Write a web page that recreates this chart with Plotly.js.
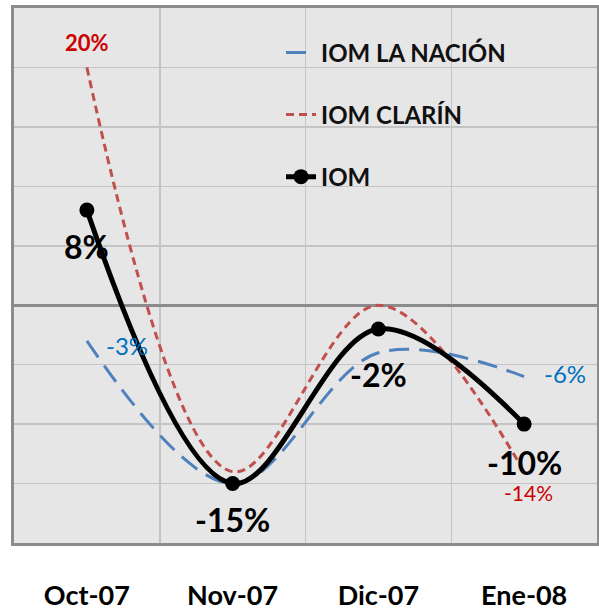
<!DOCTYPE html>
<html>
<head>
<meta charset="utf-8">
<script src="https://cdn.plot.ly/plotly-3.0.1.min.js"></script>
<style>html,body{margin:0;padding:0;background:#fff;}#chart{width:599px;height:615px;}</style>
</head>
<body>
<div id="chart"></div>
<script>
const categories = ['Oct-07', 'Nov-07', 'Dic-07', 'Ene-08'];
const iomLaNacion = [-3, -15, -4, -6];
const iomClarin = [20, -14, 0, -14];
const iom = [8, -15, -2, -10];
const seriesNames = ['IOM LA NACIÓN', 'IOM CLARÍN', 'IOM'];

const FONT = 'Lato, "Open Sans", sans-serif';
const pct = v => v + '%';

const traces = [
  {x: categories, y: iomLaNacion, name: seriesNames[0], type: 'scatter', mode: 'lines',
   line: {color: '#4f81bd', width: 3, dash: '20px,10px', shape: 'spline', smoothing: 1}, legend: 'legend'},
  {x: categories, y: iomClarin, name: seriesNames[1], type: 'scatter', mode: 'lines',
   line: {color: '#c0504d', width: 3, dash: '8px,5px', shape: 'spline', smoothing: 1}, legend: 'legend2'},
  {x: categories, y: iom, name: seriesNames[2], type: 'scatter', mode: 'lines+markers',
   line: {color: '#000000', width: 5, shape: 'spline', smoothing: 1},
   marker: {color: '#000000', size: 15}, legend: 'legend3'}
];

const annotations = [];
function lab(i, series, color, size, xs, ys, bold) {
  annotations.push({x: categories[i], y: series[i], xref: 'x', yref: 'y',
    text: bold ? '<b>' + pct(series[i]) + '</b>' : pct(series[i]),
    showarrow: false, xshift: xs, yshift: ys, borderpad: 0,
    font: {family: FONT, size: size, color: color}});
}
// IOM labels
lab(0, iom, '#000', 32, 0, -36, true);
lab(1, iom, '#000', 32, 0, -36, true);
lab(2, iom, '#000', 32, 0, -45, true);
lab(3, iom, '#000', 32, 0, -38, true);
// Clarín labels
lab(0, iomClarin, '#cc0000', 22, 0, 25, true);
lab(3, iomClarin, '#cc0000', 21, 4, -21, false);
// La Nación labels
lab(0, iomLaNacion, '#0070c0', 24, 40, -5, false);
lab(3, iomLaNacion, '#0070c0', 24, 41, 3, false);

const legendCommon = {xanchor: 'left', yanchor: 'middle', bgcolor: 'rgba(0,0,0,0)',
  font: {family: FONT, size: 24, color: '#111', weight: 'bold'}};

const layout = {
  width: 599, height: 615,
  margin: {l: 14, r: 2, t: 8, b: 72},
  paper_bgcolor: '#ffffff',
  plot_bgcolor: '#e6e6e6',
  showlegend: true,
  legend: Object.assign({x: 0.458, y: 0.916}, legendCommon),
  legend2: Object.assign({x: 0.458, y: 0.80}, legendCommon),
  legend3: Object.assign({x: 0.458, y: 0.684}, legendCommon),
  xaxis: {type: 'category', range: [-0.5, 3.5], tickson: 'boundaries',
    showgrid: true, gridcolor: '#c4c4c4', gridwidth: 1.5,
    showline: true, linecolor: '#8c8c8c', linewidth: 3, mirror: true,
    ticks: '', ticklabelstandoff: 27,
    tickfont: {family: FONT, size: 27, color: '#000', weight: 'bold'}, fixedrange: true},
  yaxis: {range: [-20, 25], dtick: 5, showticklabels: false,
    showgrid: true, gridcolor: '#c4c4c4', gridwidth: 1.5,
    zeroline: true, zerolinecolor: '#8c8c8c', zerolinewidth: 3,
    showline: true, linecolor: '#8c8c8c', linewidth: 3, mirror: true, ticks: '', fixedrange: true},
  annotations: annotations
};

Plotly.newPlot('chart', traces, layout, {displayModeBar: false, staticPlot: true});
</script>
</body>
</html>
